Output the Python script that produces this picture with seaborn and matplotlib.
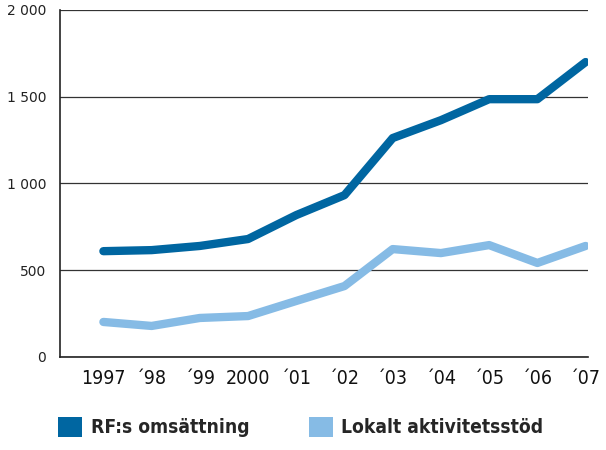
import seaborn as sns
import pandas as pd
import matplotlib.pyplot as plt
from matplotlib.patches import Patch

years = [1997, 1998, 1999, 2000, 2001, 2002, 2003, 2004, 2005, 2006, 2007]
year_labels = ['1997', '´98', '´99', '2000', '´01', '´02', '´03', '´04', '´05', '´06', '´07']
rf_omsattning = [610, 616, 640, 680, 818, 933, 1262, 1365, 1486, 1486, 1700]
lokalt_stod = [202, 179, 225, 236, 323, 409, 622, 599, 645, 542, 640]
series_names = ['RF:s omsättning', 'Lokalt aktivitetsstöd']
colors = ['#0066a1', '#86bbe5']

df = pd.DataFrame({
	'År': years * 2,
	'Värde': rf_omsattning + lokalt_stod,
	'Serie': [series_names[0]] * len(years) + [series_names[1]] * len(years),
})

sns.set_style('white')

fig = plt.figure(figsize=(6.06, 4.5), dpi=100)
ax = fig.add_axes([60 / 606, 93 / 450, 528 / 606, 347 / 450])

sns.lineplot(data=df, x='År', y='Värde', hue='Serie', palette=colors,
	linewidth=6, legend=False, ax=ax, solid_capstyle='round')

ax.set_xlim(1996.1, 2007.05)
ax.set_ylim(0, 2000)
ax.set_yticks([0, 500, 1000, 1500, 2000])
ax.set_yticklabels(['0', '500', '1 000', '1 500', '2 000'], fontsize=10, color='#222222')
ax.yaxis.grid(True, color='#333333', linewidth=0.9)
ax.set_axisbelow(True)
ax.set_xticks(years)
ax.set_xticklabels(year_labels, fontsize=14, family='DejaVu Sans', stretch='condensed',
	color='#111111')
ax.tick_params(axis='x', direction='in', length=6, width=1, color='#222222', pad=9)
ax.tick_params(axis='y', length=0, pad=10)
ax.set_xlabel('')
ax.set_ylabel('')
for side in ['top', 'right']:
	ax.spines[side].set_visible(False)
for side in ['left', 'bottom']:
	ax.spines[side].set_color('#222222')
	ax.spines[side].set_linewidth(1.2)

handles = [Patch(facecolor=c, edgecolor='none') for c in colors]
fig.legend(handles, series_names, loc='lower left', bbox_to_anchor=(41 / 606, -0.01),
	ncol=2, frameon=False, handlelength=1.25, handleheight=1.25, columnspacing=3.1,
	handletextpad=0.45,
	prop={'weight': 'bold', 'size': 13.8, 'family': 'DejaVu Sans', 'stretch': 'condensed'})

fig.savefig('out.png', dpi=100)
